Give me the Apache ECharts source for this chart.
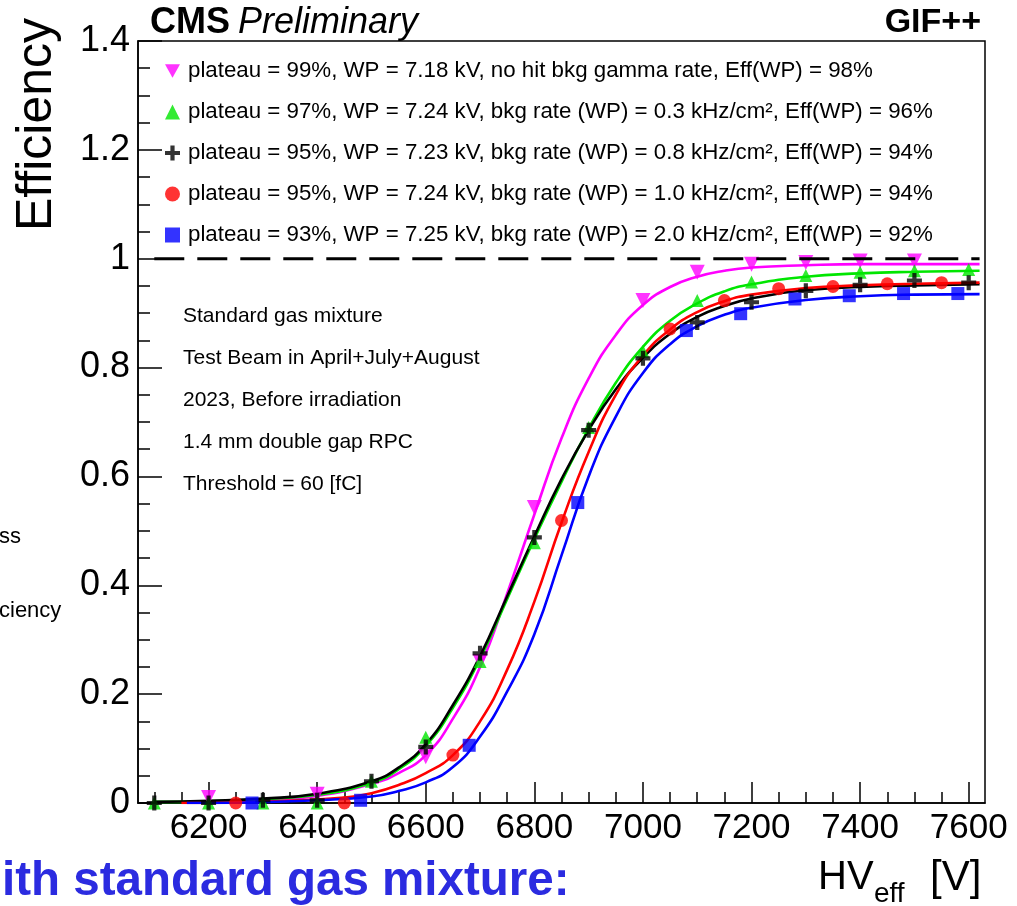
<!DOCTYPE html>
<html>
<head>
<meta charset="utf-8">
<script src="https://cdn.jsdelivr.net/npm/echarts@6/dist/echarts.min.js"></script>
<style>
html,body{margin:0;padding:0;background:#fff;}
#chart{width:1017px;height:906px;}
</style>
</head>
<body>
<div id="chart"></div>
<script>
// ---------- data ----------
const legendNames = [
  'plateau = 99%, WP = 7.18 kV, no hit bkg gamma rate, Eff(WP) = 98%',
  'plateau = 97%, WP = 7.24 kV, bkg rate (WP) = 0.3 kHz/cm\u00B2, Eff(WP) = 96%',
  'plateau = 95%, WP = 7.23 kV, bkg rate (WP) = 0.8 kHz/cm\u00B2, Eff(WP) = 94%',
  'plateau = 95%, WP = 7.24 kV, bkg rate (WP) = 1.0 kHz/cm\u00B2, Eff(WP) = 94%',
  'plateau = 93%, WP = 7.25 kV, bkg rate (WP) = 2.0 kHz/cm\u00B2, Eff(WP) = 92%'
];

const xMajorTicks = [6200, 6400, 6600, 6800, 7000, 7200, 7400, 7600];
const xMinorTicks = [6100, 6150, 6250, 6300, 6350, 6450, 6500, 6550, 6650, 6700, 6750,
  6850, 6900, 6950, 7050, 7100, 7150, 7250, 7300, 7350, 7450, 7500, 7550];

// measured points
const magentaX = [6200, 6400, 6600, 6700, 6800, 7000, 7100, 7200, 7300, 7400, 7500];
const magentaY = [0.01, 0.016, 0.085, 0.26, 0.543, 0.923, 0.975, 0.99, 0.993, 0.996, 0.996];

const greenX = [6100, 6200, 6300, 6400, 6500, 6600, 6700, 6800, 6900, 7000, 7100, 7200, 7300, 7400, 7500, 7600];
const greenY = [0.0, 0.0, 0.0, 0.0, 0.04, 0.121, 0.26, 0.478, 0.69, 0.83, 0.923, 0.957, 0.969, 0.975, 0.978, 0.98];

const blackX = [6100, 6200, 6300, 6400, 6500, 6600, 6700, 6800, 6900, 7000, 7100, 7200, 7300, 7400, 7500, 7600];
const blackY = [0.0, 0.0, 0.005, 0.005, 0.04, 0.103, 0.275, 0.488, 0.685, 0.817, 0.883, 0.92, 0.941, 0.952, 0.96, 0.956];

const redX = [6250, 6450, 6650, 6850, 7050, 7150, 7250, 7350, 7450, 7550];
const redY = [0.0, 0.0, 0.088, 0.519, 0.871, 0.923, 0.945, 0.949, 0.954, 0.956];

const blueX = [6280, 6480, 6680, 6880, 7080, 7180, 7280, 7380, 7480, 7580];
const blueY = [0.0, 0.005, 0.106, 0.552, 0.868, 0.899, 0.926, 0.932, 0.936, 0.936];

// fit curves
const magFitX = [6200, 6300, 6400, 6500, 6550, 6600, 6650, 6700, 6750, 6800, 6850, 6900, 6950, 7000, 7050, 7100, 7150, 7200, 7300, 7400, 7500, 7620];
const magFitY = [0.002, 0.005, 0.013, 0.035, 0.055, 0.088, 0.155, 0.25, 0.385, 0.53, 0.67, 0.78, 0.86, 0.915, 0.948, 0.967, 0.978, 0.984, 0.988, 0.99, 0.99, 0.99];

const blkFitX = [6100, 6200, 6300, 6400, 6500, 6550, 6600, 6650, 6700, 6750, 6800, 6850, 6900, 6950, 7000, 7050, 7100, 7150, 7200, 7300, 7400, 7500, 7620];
const blkFitY = [0.002, 0.004, 0.008, 0.017, 0.04, 0.065, 0.108, 0.18, 0.27, 0.38, 0.49, 0.595, 0.685, 0.76, 0.818, 0.862, 0.893, 0.913, 0.927, 0.942, 0.948, 0.951, 0.953];

const grnFitX = [6100, 6200, 6300, 6400, 6500, 6550, 6600, 6650, 6700, 6750, 6800, 6850, 6900, 6950, 7000, 7050, 7100, 7150, 7200, 7300, 7400, 7500, 7620];
const grnFitY = [0.002, 0.003, 0.007, 0.015, 0.037, 0.062, 0.105, 0.175, 0.265, 0.375, 0.485, 0.59, 0.688, 0.772, 0.838, 0.886, 0.918, 0.94, 0.953, 0.967, 0.973, 0.976, 0.978];

const redFitX = [6150, 6250, 6350, 6450, 6500, 6550, 6600, 6650, 6700, 6750, 6800, 6850, 6900, 6950, 7000, 7050, 7100, 7150, 7200, 7300, 7400, 7500, 7620];
const redFitY = [0.0, 0.001, 0.004, 0.01, 0.018, 0.033, 0.055, 0.088, 0.15, 0.245, 0.37, 0.515, 0.645, 0.75, 0.822, 0.87, 0.902, 0.922, 0.934, 0.946, 0.951, 0.954, 0.956];

const bluFitX = [6160, 6280, 6400, 6500, 6550, 6600, 6650, 6700, 6750, 6800, 6850, 6900, 6950, 7000, 7050, 7100, 7150, 7200, 7300, 7400, 7500, 7620];
const bluFitY = [0.0, 0.001, 0.005, 0.012, 0.022, 0.038, 0.066, 0.122, 0.205, 0.31, 0.455, 0.6, 0.71, 0.79, 0.843, 0.876, 0.897, 0.91, 0.924, 0.931, 0.934, 0.935];

const refLineX = [6100, 7620];
const refLineY = [1, 1];

const annotationLines = [
  'Standard gas mixture',
  'Test Beam in April+July+August',
  '2023, Before irradiation',
  '1.4 mm double gap RPC',
  'Threshold = 60 [fC]'
];

// ---------- build chart ----------
const zip = (xs, ys) => xs.map((x, i) => [x, ys[i]]);
const FONT = '"Liberation Sans", Arial, Helvetica, sans-serif';

const ICON_DOWN = 'path://M0,0 L10,0 L5,9 Z';
const ICON_PLUS = 'path://M3.6,0 H6.4 V3.6 H10 V6.4 H6.4 V10 H3.6 V6.4 H0 V3.6 H3.6 Z';

const styles = [
  {color: '#ff00ff', symbol: ICON_DOWN, size: 15, xs: magentaX, ys: magentaY, fx: magFitX, fy: magFitY},
  {color: '#00e600', symbol: 'triangle', size: 13, xs: greenX, ys: greenY, fx: grnFitX, fy: grnFitY},
  {color: '#000000', symbol: ICON_PLUS, size: 15, xs: blackX, ys: blackY, fx: blkFitX, fy: blkFitY},
  {color: '#ff0000', symbol: 'circle', size: 13, xs: redX, ys: redY, fx: redFitX, fy: redFitY},
  {color: '#0000ff', symbol: 'rect', size: 13, xs: blueX, ys: blueY, fx: bluFitX, fy: bluFitY}
];

const series = [];
styles.forEach((s, i) => {
  series.push({
    type: 'line', xAxisIndex: 0, yAxisIndex: 0,
    data: zip(s.fx, s.fy), smooth: 0.5,
    showSymbol: false, symbol: 'none', silent: true, z: 2,
    lineStyle: {color: s.color, width: 2.6}
  });
});
styles.forEach((s, i) => {
  series.push({
    type: 'scatter', name: legendNames[i], xAxisIndex: 0, yAxisIndex: 0,
    data: zip(s.xs, s.ys), symbol: s.symbol, symbolSize: s.size, z: 3,
    itemStyle: {color: s.color}
  });
});
series.push({
  type: 'line', data: zip(refLineX, refLineY), symbol: 'none', silent: true, z: 4,
  lineStyle: {color: '#000', width: 3, type: [30, 13]}
});

const graphic = [
  {type: 'text', left: 150, top: 5, style: {text: 'CMS', font: 'bold 36px ' + FONT, fill: '#000'}},
  {type: 'text', left: 238, top: 5, style: {text: 'Preliminary', font: 'italic 36px ' + FONT, fill: '#000'}},
  {type: 'text', right: 36, top: 6, style: {text: 'GIF++', font: 'bold 34px ' + FONT, fill: '#000'}},
  {type: 'text', x: 37, y: 18, rotation: Math.PI / 2,
   style: {text: 'Efficiency', font: '50px ' + FONT, fill: '#000', align: 'right', verticalAlign: 'middle'}},
  {type: 'text', x: 818, y: 878, style: {text: 'HV', font: '40px ' + FONT, fill: '#000', verticalAlign: 'middle'}},
  {type: 'text', x: 874, y: 894, style: {text: 'eff', font: '28px ' + FONT, fill: '#000', verticalAlign: 'middle'}},
  {type: 'text', x: 930, y: 878, style: {text: '[V]', font: '42px ' + FONT, fill: '#000', verticalAlign: 'middle'}},
  {type: 'text', x: 2, y: 882, style: {text: 'ith standard gas mixture:', font: 'bold 47.5px ' + FONT, fill: '#2b2be0', verticalAlign: 'middle'}},
  {type: 'text', x: -1, y: 537, style: {text: 'ss', font: '22px ' + FONT, fill: '#000', verticalAlign: 'middle'}},
  {type: 'text', x: -1, y: 611, style: {text: 'ciency', font: '22px ' + FONT, fill: '#000', verticalAlign: 'middle'}}
];
annotationLines.forEach((t, i) => {
  graphic.push({type: 'text', x: 183, y: 316 + i * 42,
    style: {text: t, font: '21px ' + FONT, fill: '#000', verticalAlign: 'middle'}});
});

const chart = echarts.init(document.getElementById('chart'), null, {renderer: 'canvas'});
chart.setOption({
  animation: false,
  backgroundColor: '#fff',
  grid: {left: 138, right: 32, top: 41, bottom: 103, show: true, borderColor: '#000', borderWidth: 1.5, backgroundColor: 'transparent'},
  legend: {
    orient: 'vertical', left: 160, top: 55, itemGap: 19, itemWidth: 15, itemHeight: 15,
    data: legendNames.map((n, i) => ({name: n, icon: styles[i].symbol, itemStyle: {color: styles[i].color}})),
    textStyle: {fontFamily: FONT, fontSize: 22.3, color: '#000', lineHeight: 22, padding: [0, 0, 0, 3]},
    selectedMode: false
  },
  xAxis: [{
    type: 'value', min: 6070, max: 7630,
    axisLine: {show: true, lineStyle: {color: '#000', width: 1.5}},
    axisTick: {show: true, inside: true, length: 21, customValues: xMajorTicks, lineStyle: {color: '#000', width: 1.5}},
    axisLabel: {show: true, customValues: xMajorTicks, margin: 8, fontFamily: FONT, fontSize: 35, color: '#000',
      formatter: v => String(v)},
    splitLine: {show: false}
  }, {
    type: 'value', min: 6070, max: 7630, position: 'bottom',
    axisLine: {show: false},
    axisTick: {show: true, inside: true, length: 11, customValues: xMinorTicks, lineStyle: {color: '#000', width: 1.5}},
    axisLabel: {show: false, customValues: xMinorTicks},
    splitLine: {show: false}
  }],
  yAxis: {
    type: 'value', min: 0, max: 1.4, interval: 0.2,
    axisLine: {show: true, lineStyle: {color: '#000', width: 1.5}},
    axisTick: {show: true, inside: true, length: 24, lineStyle: {color: '#000', width: 1.5}},
    minorTick: {show: true, splitNumber: 4, length: 12, lineStyle: {color: '#000', width: 1.5}},
    axisLabel: {margin: 8, fontFamily: FONT, fontSize: 36, color: '#000'},
    splitLine: {show: false}
  },
  graphic: graphic,
  series: series
});
</script>
</body>
</html>
